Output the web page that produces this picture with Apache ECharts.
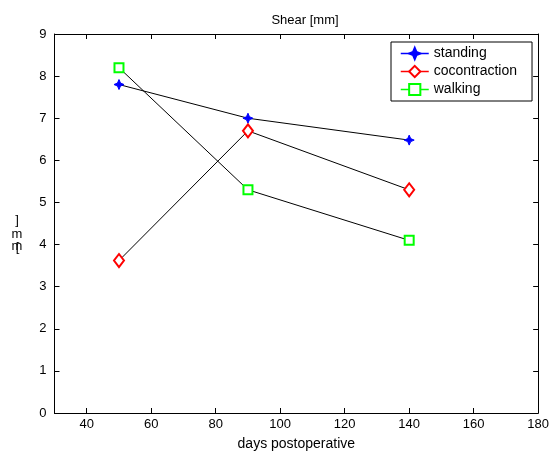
<!DOCTYPE html>
<html><head><meta charset="utf-8">
<script src="https://cdn.jsdelivr.net/npm/echarts@6/dist/echarts.min.js"></script>
<style>html,body{margin:0;padding:0;background:#fff}#c{width:552px;height:457px}</style>
</head><body><div id="c"></div>
<script>
const days = [50, 90, 140];
const standing = [7.8, 7.0, 6.48];
const cocontraction = [3.62, 6.7, 5.3];
const walking = [8.2, 5.3, 4.1];
const xTicks = [40, 60, 80, 100, 120, 140, 160, 180];

const FONT = 'Liberation Sans, Arial, sans-serif';
const starPath = 'path://M0,-10 L3,-3 L10,0 L3,3 L0,10 L-3,3 L-10,0 L-3,-3 Z';
function pts(ys){ return days.map((d,i)=>[d, ys[i]]); }

const chart = echarts.init(document.getElementById('c'), null, {renderer:'canvas'});
const axisCommon = {
  axisLine:{show:true, onZero:false, lineStyle:{color:'#000', width:1}},
  splitLine:{show:false},
};
const labelStyle = {fontFamily:FONT, fontSize:13, fill:'#000', align:'center', verticalAlign:'middle'};
chart.setOption({
  animation:false,
  backgroundColor:'#fff',
  title:{text:'Shear [mm]', left:300, top:9, textAlign:'center',
    textStyle:{fontFamily:FONT, fontSize:13, fontWeight:'normal', color:'#000'}},
  grid:{left:54.5, right:12.5, top:34, bottom:44, containLabel:false},
  legend:{
    left:391, top:42, orient:'vertical',
    backgroundColor:'#fff', borderColor:'#000', borderWidth:1,
    padding:[4.5,15,4.5,9], itemGap:4, itemWidth:28, itemHeight:14,
    textStyle:{fontFamily:FONT, fontSize:14, color:'#000'},
    data:[
      {name:'standing', lineStyle:{color:'#0000ff', width:1.5}},
      {name:'cocontraction', lineStyle:{color:'#ff0000', width:1.5}},
      {name:'walking', lineStyle:{color:'#00ff00', width:1.5}}
    ]
  },
  xAxis:[
    Object.assign({type:'value', min:30, max:180, position:'bottom',
      name:'days postoperative', nameLocation:'middle', nameGap:24,
      nameTextStyle:{fontFamily:FONT, fontSize:14, color:'#000'},
      axisTick:{show:true, inside:true, length:5, customValues:xTicks, lineStyle:{color:'#000'}},
      axisLabel:{show:true, customValues:xTicks, fontFamily:FONT, fontSize:13, color:'#000', margin:5}
    }, axisCommon),
    Object.assign({type:'value', min:30, max:180, position:'top',
      axisTick:{show:true, inside:true, length:5, customValues:xTicks, lineStyle:{color:'#000'}},
      axisLabel:{show:false}
    }, axisCommon)
  ],
  yAxis:[
    Object.assign({type:'value', min:0, max:9, interval:1, position:'left',
      axisTick:{show:true, inside:true, length:5, lineStyle:{color:'#000'}},
      axisLabel:{show:true, fontFamily:FONT, fontSize:13, color:'#000', margin:8}
    }, axisCommon),
    Object.assign({type:'value', min:0, max:9, interval:1, position:'right',
      axisTick:{show:true, inside:true, length:5, lineStyle:{color:'#000'}},
      axisLabel:{show:false}
    }, axisCommon)
  ],
  graphic:[
    {type:'text', x:17, y:220, style:Object.assign({text:']'}, labelStyle)},
    {type:'text', x:17, y:234, style:Object.assign({text:'m'}, labelStyle)},
    {type:'text', x:17, y:246, style:Object.assign({text:'m'}, labelStyle)},
    {type:'text', x:17.5, y:247.5, style:Object.assign({text:'['}, labelStyle)}
  ],
  series:[
    {name:'standing', type:'line', data:pts(standing), symbol:starPath, symbolSize:10,
      lineStyle:{color:'#000', width:1}, itemStyle:{color:'#0000ff', borderColor:'#0000ff', borderWidth:1}, z:3},
    {name:'cocontraction', type:'line', data:pts(cocontraction), symbol:'diamond', symbolSize:[10,13],
      lineStyle:{color:'#000', width:1}, itemStyle:{color:'#fff', borderColor:'#ff0000', borderWidth:2}, z:3},
    {name:'walking', type:'line', data:pts(walking), symbol:'rect', symbolSize:9,
      lineStyle:{color:'#000', width:1}, itemStyle:{color:'#fff', borderColor:'#00ff00', borderWidth:2}, z:3}
  ]
});
</script></body></html>
